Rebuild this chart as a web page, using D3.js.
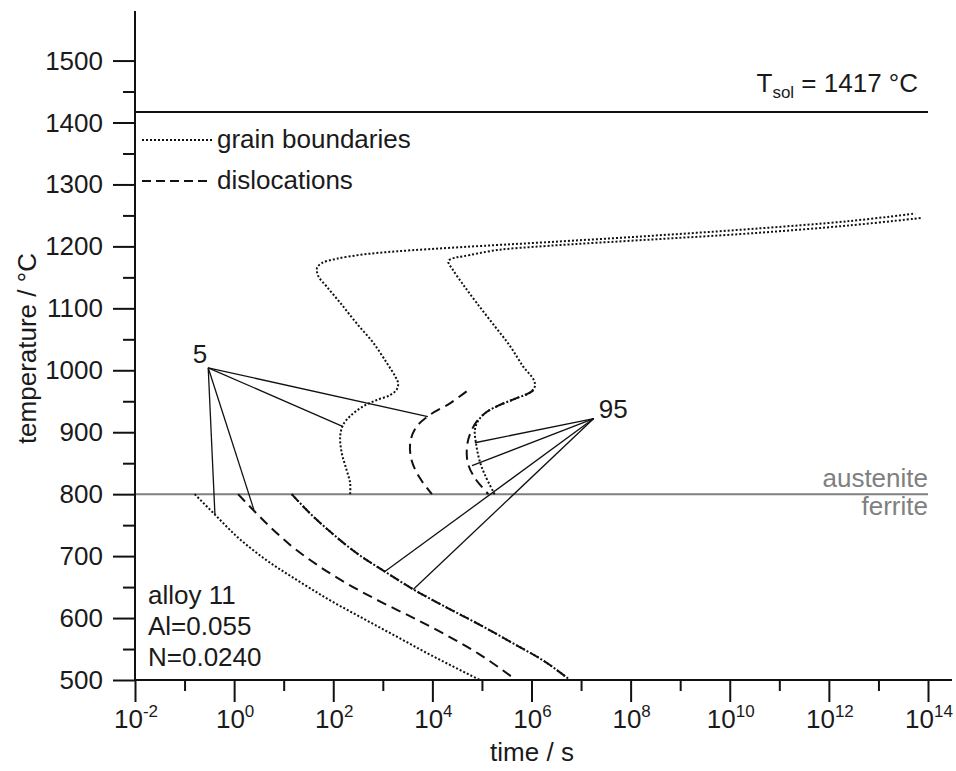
<!DOCTYPE html>
<html>
<head>
<meta charset="utf-8">
<script src="https://cdn.jsdelivr.net/npm/d3@7/dist/d3.min.js"></script>
<style>
  html, body { margin: 0; padding: 0; background: #fff; }
  svg text { font-family: "Liberation Sans", Arial, Helvetica, sans-serif; fill: #1a1a1a; }
</style>
</head>
<body>
<script>
// Precipitation curves of alloy 11 — values are [time in s, temperature in °C]

// grain boundaries, 5 % (austenite region, up to the high-temperature branch)
const gb5Austenite = [
  [219, 800], [219, 818], [186, 839], [148, 867], [138, 893], [158, 912],
  [234, 928], [407, 942], [759, 952], [1410, 960], [1910, 969], [2040, 979],
  [1780, 990], [1200, 1012], [646, 1044], [295, 1076], [138, 1109], [74, 1135],
  [50, 1152], [47, 1165], [59, 1173], [117, 1180], [407, 1187], [1910, 1192],
  [4.2e4, 1199], [2.3e6, 1207], [2.5e8, 1217], [2.6e10, 1228], [2.7e12, 1241], [5.5e13, 1253]
];
// grain boundaries, 95 %
const gb95Austenite = [
  [1.8e5, 800], [1.15e5, 831], [8.9e4, 855], [7.6e4, 882], [7.2e4, 904], [8.5e4, 919],
  [1.26e5, 933], [2.3e5, 944], [5.0e5, 955], [9.3e5, 964], [1.17e6, 974], [1.1e6, 985],
  [6.8e5, 1006], [3.7e5, 1039], [1.7e5, 1074], [7.8e4, 1109], [4.2e4, 1138], [2.6e4, 1162],
  [2.1e4, 1176], [2.9e4, 1182], [4.2e4, 1184], [2.0e5, 1194], [2.3e6, 1201],
  [2.5e8, 1211], [2.6e10, 1221], [2.7e12, 1234], [7.6e13, 1246]
];
// dislocations, 5 % and 95 %
const disl5Austenite = [
  [4.9e4, 966], [2.3e4, 947], [8.9e3, 928], [4.8e3, 909], [3.6e3, 885],
  [3.8e3, 855], [5.6e3, 826], [9.8e3, 800]
];
const disl95Austenite = [
  [1.1e6, 968], [9.3e5, 964], [5.0e5, 955], [2.3e5, 944], [1.26e5, 933],
  [7.8e4, 917], [5.8e4, 898], [5.0e4, 877], [5.2e4, 850], [7.2e4, 826], [1.35e5, 800]
];
// ferrite region
const gb5Ferrite = [
  [0.16, 800], [0.41, 767], [1.12, 732], [3.9, 697], [18, 662], [85, 629],
  [407, 599], [1910, 570], [8.9e3, 541], [2.9e4, 520], [9.1e4, 500]
];
const disl5Ferrite = [
  [1.2, 800], [2.6, 772], [5.2, 748], [13.5, 718], [47, 686], [186, 656],
  [870, 627], [4.2e3, 600], [1.95e4, 572], [9.1e4, 541], [4.9e5, 500]
];
// 95 % for grain boundaries and dislocations coincide below 800 °C
const both95Ferrite = [
  [14.5, 800], [34, 769], [85, 740], [295, 705], [1100, 675], [4.2e3, 646],
  [1.95e4, 617], [9.1e4, 589], [4.3e5, 559], [2.0e6, 528], [6.0e6, 500]
];

// labels with leader lines
const leader5 = { label: "5", from: [0.30, 1004],
  to: [[8.1e3, 925], [158, 909], [0.41, 767], [2.5, 775]] };
const leader95 = { label: "95", from: [1.8e7, 922],
  to: [[7.2e4, 883], [6.3e4, 846], [1100, 675], [4.1e3, 646]] };

const tSolidus = 1417;
const tTransition = 800;

const xMajorExp = [-2, 0, 2, 4, 6, 8, 10, 12, 14];
const xMinorExp = [-1, 1, 3, 5, 7, 9, 11, 13];
const yMajor = [500, 600, 700, 800, 900, 1000, 1100, 1200, 1300, 1400, 1500];
const yMinor = [550, 650, 750, 850, 950, 1050, 1150, 1250, 1350, 1450];

const alloyInfo = ["alloy 11", "Al=0.055", "N=0.0240"];

// ---------------------------------------------------------------
const W = 956, H = 771;
const FS = 26;
const svg = d3.select("body").append("svg").attr("width", W).attr("height", H);

const x = d3.scaleLog().domain([1e-2, 1e14]).range([135, 928]);
const y = d3.scaleLinear().domain([500, 1580]).range([680, 11]);

// C-curves fold back on themselves, the ferrite curves are monotone in time
const lineFold = d3.line().x(d => x(d[0])).y(d => y(d[1])).curve(d3.curveCatmullRom.alpha(0.5));
const lineMono = d3.line().x(d => x(d[0])).y(d => y(d[1])).curve(d3.curveMonotoneX);

const DOT = "2,2";
const DASH = "10,6";

// reference lines
svg.append("line").attr("x1", x(1e-2)).attr("x2", x(1e14))
  .attr("y1", y(tSolidus)).attr("y2", y(tSolidus))
  .attr("stroke", "#111").attr("stroke-width", 2);
svg.append("line").attr("x1", x(1e-2)).attr("x2", x(1e14))
  .attr("y1", y(tTransition)).attr("y2", y(tTransition))
  .attr("stroke", "#7f7f7f").attr("stroke-width", 2);

// curves
function curve(data, gen, dash) {
  svg.append("path").datum(data).attr("d", gen)
    .attr("fill", "none").attr("stroke", "#111")
    .attr("stroke-width", 2).attr("stroke-dasharray", dash);
}
curve(gb5Austenite, lineFold, DOT);
curve(gb95Austenite, lineFold, DOT);
curve(disl5Austenite, lineFold, DASH);
curve(disl95Austenite, lineFold, DASH);
curve(gb5Ferrite, lineMono, DOT);
curve(disl5Ferrite, lineMono, DASH);
curve(both95Ferrite, lineMono, DOT);
curve(both95Ferrite, lineMono, DASH);

// leader lines and their labels
[leader5, leader95].forEach(l => {
  l.to.forEach(p => {
    svg.append("line")
      .attr("x1", x(l.from[0])).attr("y1", y(l.from[1]))
      .attr("x2", x(p[0])).attr("y2", y(p[1]))
      .attr("stroke", "#111").attr("stroke-width", 1.3);
  });
});
svg.append("text").attr("x", x(leader5.from[0]) - 1).attr("y", y(leader5.from[1]) - 5)
  .attr("text-anchor", "end").attr("font-size", FS).text(leader5.label);
svg.append("text").attr("x", x(leader95.from[0]) + 5).attr("y", y(leader95.from[1]) - 1)
  .attr("text-anchor", "start").attr("font-size", FS).text(leader95.label);

// axes
const gx = svg.append("g").attr("transform", `translate(0,${y(500)})`);
gx.call(d3.axisBottom(x).tickValues(xMajorExp.map(e => Math.pow(10, e))).tickSize(22).tickFormat(""));
gx.call(g => g.select(".domain").remove());
const gxm = svg.append("g").attr("transform", `translate(0,${y(500)})`);
gxm.call(d3.axisBottom(x).tickValues(xMinorExp.map(e => Math.pow(10, e))).tickSize(11).tickFormat(""));
gxm.call(g => g.select(".domain").remove());
svg.append("line").attr("x1", x(1e-2)).attr("x2", 952)
  .attr("y1", y(500)).attr("y2", y(500)).attr("stroke", "#111").attr("stroke-width", 2);

xMajorExp.forEach(e => {
  const t = svg.append("text").attr("x", x(Math.pow(10, e)) + 1).attr("y", 728)
    .attr("text-anchor", "middle").attr("font-size", FS);
  t.append("tspan").text("10");
  t.append("tspan").attr("dy", -11).attr("font-size", 17).text(String(e));
});

const gy = svg.append("g").attr("transform", `translate(${x(1e-2)},0)`);
gy.call(d3.axisLeft(y).tickValues(yMajor).tickSize(22).tickFormat(""));
gy.call(g => g.select(".domain").remove());
const gym = svg.append("g").attr("transform", `translate(${x(1e-2)},0)`);
gym.call(d3.axisLeft(y).tickValues(yMinor).tickSize(12).tickFormat(""));
gym.call(g => g.select(".domain").remove());
svg.selectAll(".tick line").attr("stroke", "#111").attr("stroke-width", 2);
svg.append("line").attr("x1", x(1e-2)).attr("x2", x(1e-2))
  .attr("y1", y(500) + 1).attr("y2", y(1580)).attr("stroke", "#111").attr("stroke-width", 2);

yMajor.forEach(v => {
  svg.append("text").attr("x", 103).attr("y", y(v) + 9)
    .attr("text-anchor", "end").attr("font-size", FS).text(v);
});

// axis titles
svg.append("text").attr("x", 532).attr("y", 761).attr("text-anchor", "middle")
  .attr("font-size", FS).text("time / s");
svg.append("text").attr("transform", `translate(36,${y(1035)}) rotate(-90)`)
  .attr("text-anchor", "middle").attr("font-size", FS).text("temperature / °C");

// solidus label
const ts = svg.append("text").attr("x", 918).attr("y", 92).attr("text-anchor", "end").attr("font-size", FS);
ts.append("tspan").text("T");
ts.append("tspan").attr("dy", 6).attr("font-size", 17).text("sol");
ts.append("tspan").attr("dy", -6).text(` = ${tSolidus} °C`);

// phase labels
svg.append("text").attr("x", 928).attr("y", 487).attr("text-anchor", "end")
  .attr("font-size", FS).style("fill", "#808080").text("austenite");
svg.append("text").attr("x", 928).attr("y", 515).attr("text-anchor", "end")
  .attr("font-size", FS).style("fill", "#808080").text("ferrite");

// legend
const legend = [{ name: "grain boundaries", dash: DOT, y: 140 }, { name: "dislocations", dash: "9,5" , y: 181 }];
legend.forEach(l => {
  svg.append("line").attr("x1", 142).attr("x2", 212).attr("y1", l.y).attr("y2", l.y)
    .attr("stroke", "#111").attr("stroke-width", 2).attr("stroke-dasharray", l.dash);
  svg.append("text").attr("x", 217).attr("y", l.y + 8).attr("font-size", FS).text(l.name);
});

// alloy composition
alloyInfo.forEach((s, i) => {
  svg.append("text").attr("x", 148).attr("y", 604 + i * 31).attr("font-size", FS).text(s);
});
</script>
</body>
</html>
